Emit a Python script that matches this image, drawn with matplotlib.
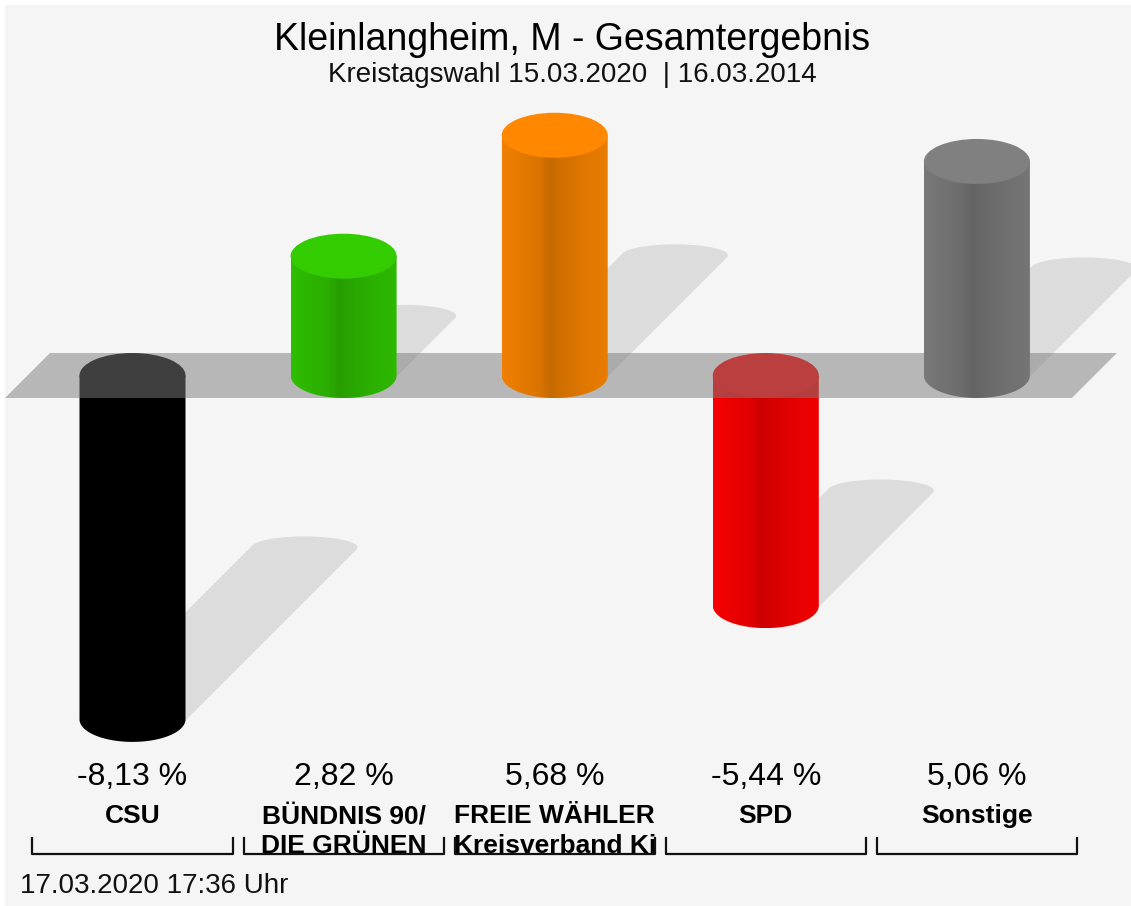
import numpy as np
import matplotlib.pyplot as plt
from matplotlib.path import Path
from matplotlib.patches import PathPatch, Ellipse, Polygon
from matplotlib.colors import to_rgb

plt.rcParams['font.family'] = ['Liberation Sans', 'DejaVu Sans']

parties = ['CSU', 'BÜNDNIS 90/\nDIE GRÜNEN', 'FREIE WÄHLER\nKreisverband Ki', 'SPD', 'Sonstige']
changes = [-8.13, 2.82, 5.68, -5.44, 5.06]
cap_colors = ['#000000', '#33cc00', '#ff8800', '#ff0000', '#808080']
body_colors = ['#000000', '#30c400', '#f88400', '#ff0000', '#7c7c7c']

title = 'Kleinlangheim, M - Gesamtergebnis'
subtitle = 'Kreistagswahl 15.03.2020  | 16.03.2014'
footer = '17.03.2020 17:36 Uhr'

# pixel layout of the picture
W, H = 1131, 906
X0, DX = 132.5, 211.1      # centre of first bar, spacing
Y0, K = 375.5, 42.3        # baseline, pixels per percent
R = 53 / DX                # cylinder radius (x units)
E = 22.5 / K               # ellipse half height (y units)
ES = 11 / K                # shadow ellipse half height


def py(y_px):
    return (Y0 - y_px) / K


def hull(pts):
    pts = sorted(map(tuple, pts))
    def half(p):
        out = []
        for q in p:
            while len(out) >= 2 and ((out[-1][0]-out[-2][0])*(q[1]-out[-2][1]) -
                                     (out[-1][1]-out[-2][1])*(q[0]-out[-2][0])) <= 0:
                out.pop()
            out.append(q)
        return out
    lo = half(pts)
    up = half(pts[::-1])
    return np.array(lo[:-1] + up[:-1])


fig = plt.figure(figsize=(W / 100, H / 100), dpi=100, facecolor='white')
ax = fig.add_axes([5 / W, 0, 1 - 5 / W, 1 - 5 / H])
ax.set_facecolor('#f5f5f5')
for s in ax.spines.values():
    s.set_visible(False)
ax.set_xticks([])
ax.set_yticks([])

th = np.linspace(0, 2 * np.pi, 120)
lower = np.linspace(np.pi, 2 * np.pi, 60)
prof_t = [0, 0.1, 0.35, 0.45, 0.55, 0.8, 1]
prof_f = [0.97, 0.94, 0.88, 0.8, 0.84, 0.91, 0.94]
shade = np.interp(np.linspace(0, 1, 128), prof_t, prof_f)

for i, v in enumerate(changes):
    c = i
    top, low = max(v, 0), min(v, 0)
    z = 4 if v > 0 else 2

    # shadow
    sx = 0.5 * abs(v) * K / DX
    sy = 0.5 * abs(v)
    e1 = np.column_stack([c + R * np.cos(th), low + ES * np.sin(th)])
    e2 = e1 + [sx, sy]
    ax.add_patch(Polygon(hull(np.vstack([e1, e2])), closed=True,
                         facecolor=(0, 0, 0, 0.1), edgecolor='none', zorder=1))

    # body
    verts = [(c - R, top), (c - R, low)]
    verts += list(zip(c + R * np.cos(lower), low + E * np.sin(lower)))
    verts += [(c + R, top), (c - R, top)]
    clip = PathPatch(Path(verts), transform=ax.transData, facecolor='none', edgecolor='none')
    base = np.array(to_rgb(body_colors[i]))
    grad = (shade[:, None] * base[None, :])[None, :, :]
    im = ax.imshow(grad, extent=[c - R, c + R, low - E, top], aspect='auto',
                   interpolation='bilinear', zorder=z)
    im.set_clip_path(clip)

    # cap
    ax.add_patch(Ellipse((c, top), 2 * R, 2 * E, facecolor=cap_colors[i],
                         edgecolor='none', zorder=z + 0.1))

# base plane
n = len(changes)
skew = 45 / DX
left, right = -0.604, n - 1 + 0.45
ax.add_patch(Polygon([(left, -E), (right, -E), (right + skew, E), (left + skew, E)],
                     closed=True, facecolor=(125/255, 125/255, 125/255, 0.51),
                     edgecolor='none', zorder=3))

# labels
hw = 100 / DX
for i, (name, v) in enumerate(zip(parties, changes)):
    ax.text(i, py(785), f'{v:.2f} %'.replace('.', ','), ha='center', va='baseline',
            fontsize=23, color='#000000')
    for j, line in enumerate(name.split('\n')):
        ax.text(i, py(823 + 30 * j), line, ha='center', va='baseline',
                fontsize=19, fontweight='bold', color='#000000')
    ax.plot([i - hw, i - hw, i + hw, i + hw], [py(838), py(854), py(854), py(838)],
            color='#111111', lw=1.6, clip_on=False, zorder=5)

ax.set_xlim((5 - X0) / DX, (W - X0) / DX)
ax.set_ylim(py(H), py(5))

fig.text(572 / W, 1 - 50 / H, title, ha='center', va='baseline', fontsize=27, color='#000000')
fig.text(572 / W, 1 - 82 / H, subtitle, ha='center', va='baseline', fontsize=20, color='#111111')
fig.text(20 / W, 1 - 893 / H, footer, ha='left', va='baseline', fontsize=20, color='#111111')

fig.savefig('out.png', dpi=100, facecolor=fig.get_facecolor())
